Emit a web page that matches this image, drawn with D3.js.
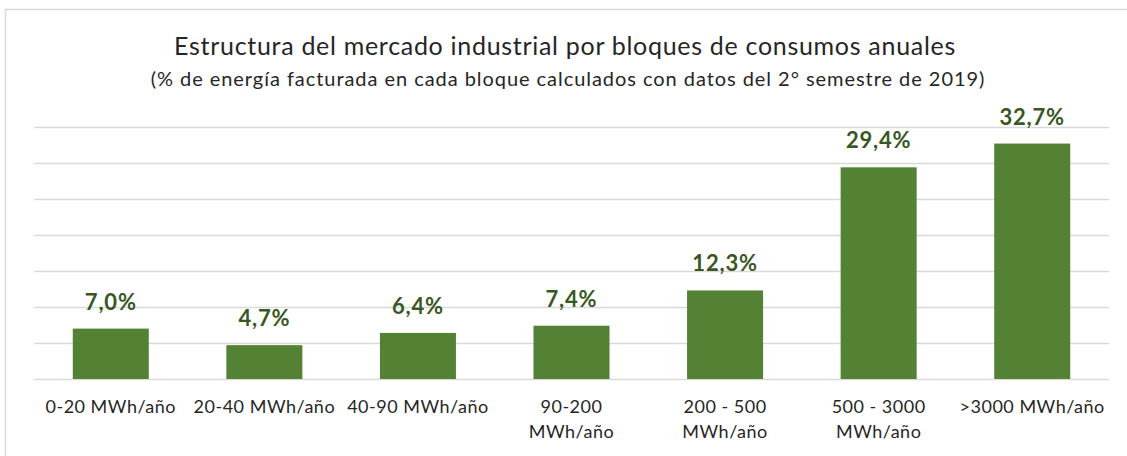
<!DOCTYPE html>
<html>
<head>
<meta charset="utf-8">
<script src="https://cdn.jsdelivr.net/npm/d3@7"></script>
<style>
  body { margin: 0; background: #fff; }
  svg text { font-family: Lato, "Open Sans", sans-serif; }
</style>
</head>
<body>
<div id="chart"></div>
<script>
var categories = [
  ["0-20 MWh/año"],
  ["20-40 MWh/año"],
  ["40-90 MWh/año"],
  ["90-200", "MWh/año"],
  ["200 - 500", "MWh/año"],
  ["500 - 3000", "MWh/año"],
  [">3000 MWh/año"]
];
var values = [7.0, 4.7, 6.4, 7.4, 12.3, 29.4, 32.7];
var yTicks = [0, 5, 10, 15, 20, 25, 30, 35];

var width = 1127, height = 456,
    margin = {top: 127, right: 18, bottom: 77, left: 34};

var svg = d3.select("#chart").append("svg")
    .attr("width", width)
    .attr("height", height);

// chart frame
svg.append("rect")
    .attr("x", 5.5).attr("y", 9.5)
    .attr("width", width + 10).attr("height", height + 10)
    .style("fill", "none").style("stroke", "#d9d9d9").style("stroke-width", 1.5);

svg.append("text")
    .attr("x", 565).attr("y", 55)
    .attr("text-anchor", "middle")
    .style("font-size", "25px").style("letter-spacing", "0.7px").style("fill", "#262626")
    .text("Estructura del mercado industrial  por bloques de consumos anuales");

svg.append("text")
    .attr("x", 568).attr("y", 86)
    .attr("text-anchor", "middle")
    .style("font-size", "20px").style("letter-spacing", "0.95px").style("fill", "#262626")
    .text("(% de energía facturada en cada bloque calculados con datos del 2° semestre de 2019)");

var x = d3.scaleBand()
    .domain(d3.range(categories.length))
    .range([margin.left, width - margin.right])
    .paddingInner(0.505)
    .paddingOuter(0.2525);

var y = d3.scaleLinear()
    .domain([0, 35])
    .range([height - margin.bottom, margin.top]);

// gridlines
svg.append("g")
    .attr("transform", "translate(" + margin.left + ",0)")
    .call(d3.axisLeft(y).tickValues(yTicks).tickSize(-(width - margin.left - margin.right)).tickFormat(""))
    .call(g => g.select(".domain").remove())
    .call(g => g.selectAll("line").style("stroke", "#d9d9d9").style("stroke-width", 1.5));

svg.append("g").selectAll("rect")
    .data(values)
    .join("rect")
    .attr("x", (d, i) => x(i))
    .attr("y", d => y(d))
    .attr("width", x.bandwidth())
    .attr("height", d => y(0) - y(d))
    .style("fill", "#548235");

svg.append("g").selectAll("text")
    .data(values)
    .join("text")
    .attr("x", (d, i) => x(i) + x.bandwidth() / 2)
    .attr("y", d => y(d) - 19)
    .attr("text-anchor", "middle")
    .style("font-size", "22px").style("letter-spacing", "0.8px")
    .style("font-weight", "bold").style("fill", "#385723")
    .text(d => d.toFixed(1).replace(".", ",") + "%");

// category labels
var labels = svg.append("g").selectAll("text")
    .data(categories)
    .join("text")
    .attr("x", (d, i) => x(i) + x.bandwidth() / 2)
    .attr("y", 413)
    .attr("text-anchor", "middle")
    .style("font-size", "18px").style("letter-spacing", "0.5px").style("fill", "#262626");

labels.selectAll("tspan")
    .data(d => d)
    .join("tspan")
    .attr("x", function() { return d3.select(this.parentNode).attr("x"); })
    .attr("dy", (d, i) => i ? 25 : 0)
    .text(d => d);
</script>
</body>
</html>
